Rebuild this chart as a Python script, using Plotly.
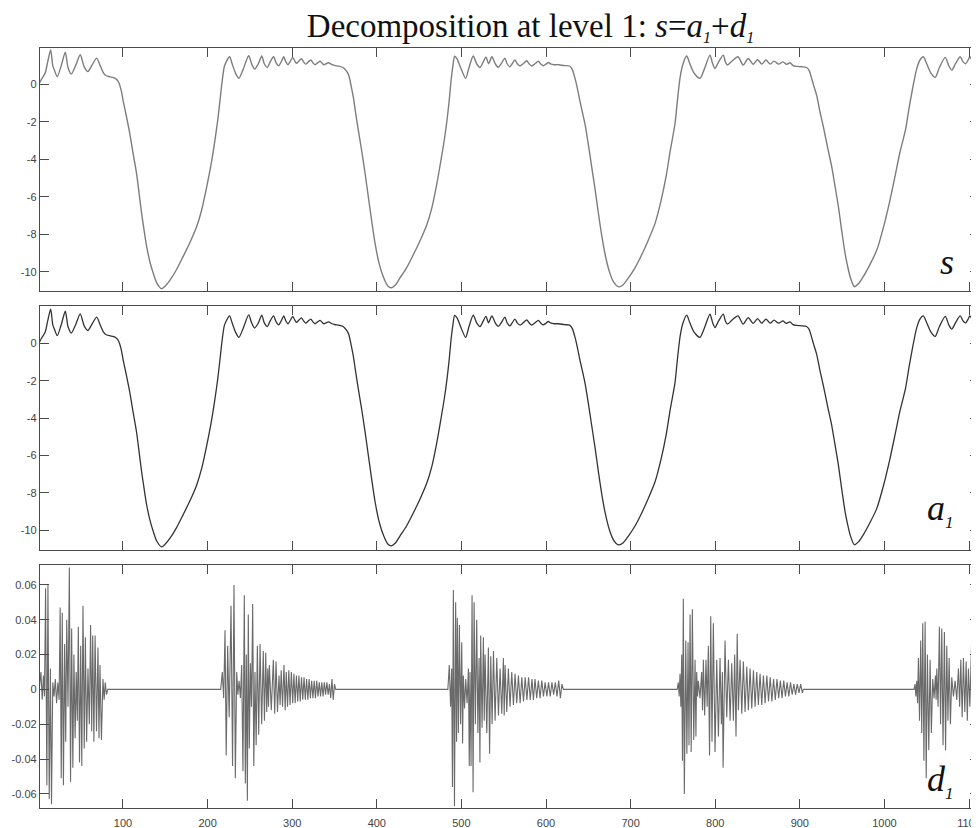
import plotly.graph_objects as go
from plotly.subplots import make_subplots

# signal s as (sample, value)
s_points = [
    (1, 0.05), (4, 0.3), (8, 0.6), (11, 1.2), (14.5, 1.83), (17, 1.0), (19, 0.75), (22.3, 0.41),
    (27, 1.0), (31.8, 1.72), (35, 0.9), (38.9, 0.55), (44, 1.0), (49.5, 1.58), (54, 0.95),
    (58.6, 0.69), (63, 1.0), (68.9, 1.40), (73, 1.0), (77, 0.6), (80.3, 0.46), (85, 0.40),
    (88.2, 0.37), (92, 0.28), (95, 0.1), (98, -0.35), (100, -0.84), (104, -1.7), (108, -2.61),
    (112, -3.7), (116, -4.75), (119, -5.8), (122, -6.88), (125, -7.8), (128, -8.66), (132, -9.5),
    (135.8, -10.08), (140, -10.6), (145.7, -10.9), (150, -10.75), (155.6, -10.44), (163, -9.9),
    (171, -9.19), (179, -8.45), (187, -7.6), (193, -6.7), (199, -5.46), (204, -4.3), (208.7, -2.97),
    (212, -1.9), (214.7, -0.84), (217, 0.1), (219.7, 0.94),
    (222, 1.2), (226, 1.47), (229, 1.1), (233, 0.6), (237, 0.32), (242, 0.8), (248.6, 1.53),
    (252, 1.1), (255.6, 0.82), (260, 1.1), (264, 1.51), (267, 1.1), (270.6, 0.9), (274, 1.2),
    (278, 1.47), (281, 1.15), (284, 0.99), (287, 1.2), (290, 1.47), (292.5, 1.2), (295, 1.05),
    (298, 1.25), (300.6, 1.44), (303, 1.25), (305, 1.12), (308, 1.25), (310.8, 1.37), (313.5, 1.2),
    (316, 1.08), (319, 1.2), (322, 1.3), (324.5, 1.15), (327, 1.05), (330, 1.15), (333, 1.23),
    (335.5, 1.12), (337.6, 1.05), (340, 1.1), (343, 1.15), (347, 1.05), (350, 1.01), (356, 0.96),
    (360, 0.9), (362, 0.82), (365, 0.65), (367, 0.46), (370, -0.16), (372.5, -0.75), (374.6, -1.41),
    (378, -2.4), (382, -3.5), (386, -4.7), (390, -6.0), (394, -7.3), (398, -8.5), (403, -9.6),
    (408, -10.3), (413, -10.75), (417, -10.85), (422, -10.7), (427, -10.35), (435, -9.8),
    (443, -9.1), (451, -8.35), (459, -7.5), (465, -6.6), (471, -5.3), (476, -4.0), (480, -2.9),
    (483, -1.9), (485.5, -0.9), (488, 0.3), (490, 1.0), (492, 1.5),
    (495, 1.35), (499, 0.9), (505, 0.32), (509, 0.9), (514, 1.51), (518, 1.1), (522, 0.9),
    (529, 1.45), (532, 1.1), (536, 1.47), (540, 1.1), (543.6, 0.91), (547, 1.1), (551.5, 1.40),
    (554, 1.1), (557.4, 0.94), (560, 1.1), (563.3, 1.30), (566, 1.1), (569.3, 0.98), (573, 1.1),
    (577.2, 1.26), (580, 1.1), (583, 0.98), (587, 1.1), (590.9, 1.23), (594, 1.08), (596.8, 0.99),
    (600, 1.08), (602.7, 1.17), (606, 1.08), (609.5, 1.05), (615, 1.05), (622, 1.0), (628, 0.98),
    (631, 0.8), (634, 0.37), (637, -0.2), (640, -0.87), (646, -2.1), (650, -3.2), (654, -4.4),
    (658, -5.6), (662, -6.9), (666, -8.1), (670, -9.1), (675, -10.0), (680, -10.55), (686, -10.8),
    (691, -10.7), (697, -10.35), (705, -9.8), (713, -9.1), (721, -8.3), (729, -7.4), (736, -6.2),
    (742, -4.9), (747, -3.5), (752.5, -2.1), (755, -1.0), (758.5, 0.37), (762, 1.1), (766.3, 1.51),
    (770, 1.1), (775, 0.6), (782, 0.32), (787, 0.8), (793.8, 1.56), (797, 1.1), (799.8, 0.85),
    (804, 1.2), (809.6, 1.56), (812, 1.2), (814.5, 1.03), (820, 1.25), (827, 1.47), (833, 1.03),
    (839, 1.38), (845, 1.07), (850, 1.33), (855, 1.08), (860, 1.30), (865, 1.08), (869.5, 1.24),
    (875, 1.08), (880, 1.20), (884, 1.07), (888.4, 1.15), (892, 1.0), (896, 0.96), (902, 0.94),
    (908, 0.9), (911, 0.75), (913.5, 0.4), (916, 0.0), (920, -0.6), (924, -1.5), (928, -2.3),
    (933, -3.4), (937.7, -4.39), (941.5, -5.4), (945.6, -6.52), (949.5, -7.8), (953.5, -9.01),
    (956.5, -9.7), (959.5, -10.26), (964.4, -10.79), (969, -10.65), (975, -10.26), (983, -9.6),
    (991, -8.84), (999, -7.6), (1006.6, -6.17), (1013, -4.8), (1018, -3.7), (1025, -2.4),
    (1029, -1.3), (1033, -0.3), (1038, 0.8), (1042, 1.3), (1046, 1.47), (1050, 1.1), (1055, 0.6),
    (1060, 0.37), (1065, 0.9), (1072, 1.44), (1076, 1.0), (1079.6, 0.76), (1084, 1.1),
    (1089.5, 1.47), (1093, 1.2), (1096, 1.1), (1099, 1.3), (1101, 1.47), (1106, 1.15), (1112, 1.3),
]
# a1 differs from s by |d1| < 0.07, less than a pixel here, so the same reading is used
a1_points = s_points

# detail d1: swing extremes (sample, value * 1000), one list per burst
d1_burst1 = [
    (1, 0), (3, 10), (4.5, -6), (6, 8), (7.2, -4), (8.5, 58), (10, -55), (11.3, 60), (12.8, -63),
    (14.2, 12), (15.5, -66), (17, 4), (18.5, -4), (20, 6), (21.5, -8), (23, 4), (24.5, -6),
    (25.7, 47), (27, -51), (28.2, 44), (29.6, -55), (31, 26), (32.3, -30), (33.5, 40), (35, -10),
    (36.6, 70), (38, -53), (39.3, 35), (40.7, -45), (42, 20), (43.4, -28), (44.7, 10), (46, -18),
    (47.2, 36), (48.6, -42), (50, 25), (51.3, -44), (52.7, 48), (54.2, -34), (55.5, 30), (57, -30),
    (58.6, 12), (60.2, -20), (61.7, 37), (63, -24), (64.2, 31), (65.6, -30), (67, 31), (68.7, -24),
    (70.4, 24), (71.6, -28), (72.8, 14), (74.5, -29), (76.3, 6), (77.7, -6), (79, 4), (80.5, -3),
    (82, 0),
]
d1_burst2 = [
    (215.5, 0), (217.4, 10), (219, -5), (220.6, 34), (222, -38), (223.7, 25), (225.5, -16),
    (227.7, 48), (229.5, -44), (231.2, 60), (232.8, -51), (234.4, 10), (235.8, -3), (237.2, 5),
    (238.8, -5), (240.3, 14), (241.8, -47), (243.4, 54), (244.6, -54), (245.8, 20), (247, -64),
    (248.1, 43), (249.3, -34), (250.6, 15), (251.9, -10), (253.3, 49), (254.6, -44), (256, 10),
    (257.4, -32), (258.8, 25), (260.4, -26), (262, 26), (263.9, -20), (265.8, 22), (267.2, -18),
    (268.7, 21), (269.9, -13), (271.1, 12), (272, -10), (273, 14), (275.3, -12), (277.7, 17),
    (279.3, -14), (280.9, 16), (282.6, -13), (284.4, 8), (285.7, -9), (287, 11), (288.6, -10),
    (290.3, 14), (291.7, -12), (293, 10), (294.5, -10), (296, 11), (297.5, -9), (299, 10),
    (300.6, -8), (302, 9), (303.5, -8), (305, 8), (306.5, -7), (308, 8), (309.5, -7), (311, 7),
    (312.5, -6), (314, 7), (315.5, -6), (317, 6), (318.5, -6), (320, 6), (321.5, -5), (323, 5),
    (324.5, -5), (326, 5), (327.5, -5), (329, 5), (330.5, -4), (332, 4), (333.5, -4), (335, 4),
    (336.5, -4), (338, 4), (339.5, -3), (341, 4), (342.5, -3), (344, 3), (345.5, -5), (347, 6),
    (348.5, -6), (350, 3), (351.4, 0),
]
d1_burst3 = [
    (484, 0), (485.7, 14), (487.2, -10), (488.5, 12), (489.4, -56), (490.5, 57), (491.8, -67),
    (493.2, 50), (494.3, -30), (495.2, 41), (496.4, -25), (497.6, 37), (499, -20), (500.4, 27),
    (501.4, -31), (502.3, 8), (503.7, -11), (505.1, 6), (506.7, -8), (508.3, 12), (509.3, -44),
    (510.2, 10), (511.4, -44), (512.6, 54), (513.8, -59), (515, 50), (516.5, -20), (518.1, 40),
    (519.5, -25), (520.9, 18), (521.9, -42), (522.8, 31), (524.4, -22), (526, 30), (527, -18),
    (528, 20), (530, -25), (531.9, 24), (533.3, -37), (534.7, 19), (536.3, -20), (537.9, 22),
    (539.8, -18), (541.8, 18), (543.8, -15), (545.7, 12), (547.7, -14), (549.6, 18), (550.6, -15),
    (551.6, 14), (553.6, -13), (555.5, 12), (557.5, -10), (559.5, 10), (561.5, -9), (563.4, 9),
    (565.4, -8), (567.4, 8), (569.4, -8), (571.4, 7), (573.4, -7), (575.4, 7), (577.4, -6),
    (579.4, 7), (581.4, -6), (583.4, 6), (585.1, -6), (587, 6), (589, -5), (591, 5), (593, -5),
    (595, 5), (597, -4), (599, 4), (601, -4), (603, 4), (605, -4), (607, 4), (609, -3), (611, 4),
    (613, -4), (615, 5), (617, -5), (618.8, 3), (620.5, 0),
]
d1_burst4 = [
    (755, 0), (756.4, 4), (757.4, -4), (758.4, 9), (759.4, -10), (760.4, 20), (761.3, -41),
    (762.3, 52), (763.5, -60), (765.2, 28), (766.5, -37), (767.9, 27), (769, -32), (770.3, 43),
    (771.6, -36), (773, 46), (774.6, -29), (776.2, 17), (777.2, -27), (778.1, 10), (779.1, -4),
    (780.1, 5), (782, -5), (784, 10), (785, -12), (786, 17), (787.5, -15), (789.1, 17), (790.5, -10),
    (791.9, 25), (793.3, -38), (794.7, 42), (796.2, -30), (797.8, 38), (799.8, -36), (801.8, 17),
    (803.8, -27), (805.7, 18), (807.3, -20), (808.5, 10), (809.3, -45), (810.5, 12), (811.6, 28),
    (813.6, -16), (815.6, 17), (817.6, -18), (819.5, 15), (821.5, -18), (823, 20), (824.6, -27),
    (826, 32), (827.4, -12), (829.4, 17), (831.4, -14), (833.3, 16), (835.3, -13), (837.3, 13),
    (839.2, -12), (841.2, 12), (843.2, -11), (845.2, 11), (847.1, -10), (849.1, 10), (851, -9),
    (853, 9), (855, -9), (857, 8), (859, -8), (861, 8), (863, -7), (865, 7), (867, -7), (869, 6),
    (871, -6), (873, 6), (875, -5), (877, 5), (879, -5), (881, 5), (883, -4), (885, 4), (887, -4),
    (889, 4), (891, -3), (893, 3), (895, -3), (897, 3), (899, -2), (901, 3), (903, -2), (904.2, 0),
]
d1_burst5 = [
    (1035, 0), (1036.2, 3), (1037.2, -4), (1038.2, 5), (1039.2, -8), (1040.2, 18), (1041.5, -18),
    (1042.9, 28), (1044.1, -25), (1045.3, 38), (1046.7, -41), (1048.1, 39), (1049.4, -51),
    (1050.8, 20), (1052.4, -35), (1054, 17), (1055.5, -25), (1057.1, 6), (1058.7, -5), (1060.3, 8),
    (1061.1, -6), (1061.9, 12), (1063.4, -10), (1065, 36), (1066.4, -20), (1067.8, 35),
    (1069.3, -32), (1070.9, 33), (1072.3, -35), (1073.7, 25), (1075.1, -18), (1076.5, 18),
    (1078, -20), (1079.6, 7), (1081.6, -4), (1083.6, 5), (1085.5, -6), (1087.5, 12), (1088.9, -10),
    (1090.3, 17), (1091.9, -16), (1093.4, 18), (1095, -13), (1096.6, 16), (1098, -18), (1099.3, 12),
    (1101, -10), (1102.5, 17), (1103.8, 41), (1104.4, -40), (1105.5, 10), (1107.2, -14),
    (1108.7, 12), (1110.3, -8), (1112, 5),
]

x_ticks = [100, 200, 300, 400, 500, 600, 700, 800, 900, 1000, 1100]
x_tick_labels = ['100', '200', '300', '400', '500', '600', '700', '800', '900', '1000', '1100']
y_ticks = [-10, -8, -6, -4, -2, 0]
y_tick_labels = ['-10', '-8', '-6', '-4', '-2', '0']
d1_ticks = [-0.06, -0.04, -0.02, 0, 0.02, 0.04, 0.06]
d1_tick_labels = ['-0.06', '-0.04', '-0.02', '0', '0.02', '0.04', '0.06']

s_x, s_y = zip(*s_points)
a1_x, a1_y = zip(*a1_points)
d1_x, d1_y = [], []
for burst in [d1_burst1, d1_burst2, d1_burst3, d1_burst4, d1_burst5]:
    for x, v in burst:
        d1_x.append(x)
        d1_y.append(v / 1000)

fig = make_subplots(rows=3, cols=1)
fig.add_trace(go.Scatter(x=s_x, y=s_y, mode='lines',
                         line=dict(color='#7d7d7d', width=1.4, shape='spline', smoothing=0.7)), row=1, col=1)
fig.add_trace(go.Scatter(x=a1_x, y=a1_y, mode='lines',
                         line=dict(color='#333333', width=1.3, shape='spline', smoothing=0.7)), row=2, col=1)
fig.add_trace(go.Scatter(x=d1_x, y=d1_y, mode='lines', line=dict(color='#6a6a6a', width=1.1)), row=3, col=1)

tick_font = dict(family='Liberation Sans, Arial', size=11, color='#444444')
axis_style = dict(showline=True, linecolor='#4a4a4a', linewidth=1.3, mirror='ticks',
                  ticks='inside', ticklen=9, tickcolor='#4a4a4a', tickwidth=1.2,
                  showgrid=False, zeroline=False, tickfont=tick_font, automargin=False)

for r in [1, 2, 3]:
    fig.update_xaxes(range=[1.9, 1111.8], tickvals=x_ticks, ticktext=x_tick_labels,
                     showticklabels=(r == 3), ticklabelstandoff=5, ticklabeloverflow='allow',
                     **axis_style, row=r, col=1)

fig.update_yaxes(range=[-11.02, 1.94], domain=[0.6803, 1.0], tickvals=y_ticks, ticktext=y_tick_labels,
                 **axis_style, row=1, col=1)
fig.update_yaxes(range=[-11.07, 2.0], domain=[0.3395, 0.6605], tickvals=y_ticks, ticktext=y_tick_labels,
                 **axis_style, row=2, col=1)
fig.update_yaxes(range=[-0.0681, 0.0714], domain=[0.0, 0.3197], tickvals=d1_ticks, ticktext=d1_tick_labels,
                 **axis_style, row=3, col=1)

sub1 = '<sub><span style="font-size:17px"><i>1</i></span></sub>'
label_font = dict(family='Liberation Serif, Times New Roman', size=36, color='#111111')
for text, yp in [('<i>s</i>', 0.6895), ('<i>a</i>' + sub1, 0.36), ('<i>d</i>' + sub1, 0.0046)]:
    fig.add_annotation(text=text, xref='paper', yref='paper', x=0.976, y=yp,
                       xanchor='right', yanchor='bottom', showarrow=False, font=label_font)

tsub = '<sub><span style="font-size:16px"><i>1</i></span></sub>'
# the page body keeps its default 8px margin, so the figure is 8px smaller than the window
fig.update_layout(
    width=971, height=820,
    margin=dict(l=32, r=0, t=40, b=20),
    plot_bgcolor='white', paper_bgcolor='white',
    showlegend=False,
    title=dict(text='Decomposition at level 1: <i>s</i>=<i>a</i>' + tsub + '+<i>d</i>' + tsub,
               x=0.5381, xanchor='center', xref='container', y=0.9793, yanchor='middle', yref='container',
               font=dict(family='Liberation Serif, Times New Roman', size=33, color='#111111')),
)

fig.write_html('out.html')
